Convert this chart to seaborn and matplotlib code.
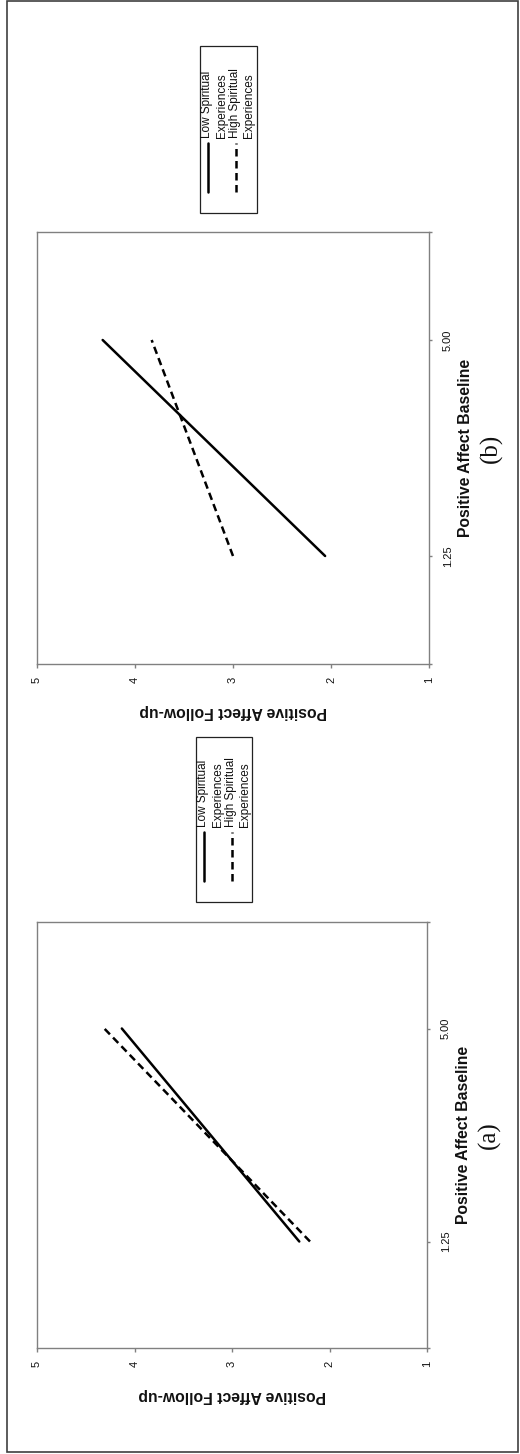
import pandas as pd
import seaborn as sns
import matplotlib.pyplot as plt
from matplotlib.patches import Rectangle

sns.set_theme(style='white')
plt.rcParams['font.family'] = ['Liberation Sans', 'DejaVu Sans']

# values
baseline = [1.25, 5.00]
baseline_labels = ['1.25', '5.00']
followup_ticks = [1, 2, 3, 4, 5]
groups = ['Low Spiritual Experiences', 'High Spiritual Experiences']
a_low = [2.31, 4.13]
a_high = [2.20, 4.31]
b_low = [2.06, 4.33]
b_high = [3.00, 3.83]
legend_rows = ['Low Spiritual', 'Experiences', 'High Spiritual', 'Experiences']

W, H = 520, 1454
GRAY = '#808080'


def make_df(low, high):
    return pd.DataFrame({
        'Baseline': baseline * 2,
        'FollowUp': low + high,
        'Group': [groups[0]] * 2 + [groups[1]] * 2,
    })


def px_box(left, top, right, bottom):
    return [left / W, 1 - bottom / H, (right - left) / W, (bottom - top) / H]


fig = plt.figure(figsize=(W / 100, H / 100), dpi=100)
# overlay in pixel coords for the frame and the hand-made (rotated) legends
over = fig.add_axes([0, 0, 1, 1])
over.set_xlim(0, W)
over.set_ylim(H, 0)
over.set_axis_off()
over.add_patch(Rectangle((7, 1), 511, 1451, fill=False, edgecolor='#404040', lw=1.2))


def draw_legend(left, top, right, bottom):
    over.add_patch(Rectangle((left, top), right - left, bottom - top,
                             fill=False, edgecolor='#222222', lw=0.9))
    over.plot([left + 8, left + 8], [bottom - 21, bottom - 70], color='black', lw=1.8)
    over.plot([left + 36, left + 36], [bottom - 21, bottom - 70], color='black', lw=1.8,
              dashes=(3.0, 1.8))
    for off, txt in zip([7, 22, 35, 49], legend_rows):
        over.text(left + off, bottom - 75, txt, rotation=90, rotation_mode='anchor',
                  ha='left', va='center', fontsize=8.5, color='#111111')


def draw_panel(ax, df, name):
    sns.lineplot(data=df, x='FollowUp', y='Baseline', style='Group',
                 dashes={groups[0]: '', groups[1]: (3.0, 1.8)},
                 color='black', linewidth=1.8, legend=False, ax=ax)
    ax.set_xlim(5, 1)
    span = baseline[1] - baseline[0]
    lo, hi = baseline[0] - span / 2, baseline[1] + span / 2
    ax.set_ylim(lo, hi)
    ax.set_xticks(followup_ticks)
    ax.set_xticklabels([str(t) for t in followup_ticks])
    ax.set_yticks([lo] + baseline + [hi])
    ax.set_yticklabels([''] + baseline_labels + [''])
    ax.yaxis.tick_right()
    ax.yaxis.set_label_position('right')
    for sp in ax.spines.values():
        sp.set_color(GRAY)
        sp.set_linewidth(1.0)
    ax.tick_params(axis='x', bottom=True, top=False, direction='out', length=3,
                   width=1, color=GRAY, labelsize=8, pad=6.5, labelrotation=90,
                   labelcolor='#111111')
    ax.tick_params(axis='y', right=True, left=False, direction='out', length=2.5,
                   width=1, color=GRAY, labelsize=8, pad=7.5, labelrotation=90,
                   labelcolor='#111111')
    for lbl in ax.get_yticklabels():
        lbl.set_va('center')
    ax.set_xlabel('Positive Affect Follow-up', rotation=180, fontweight='bold',
                  fontsize=11.3, labelpad=15, color='#111111')
    ax.set_ylabel('Positive Affect Baseline', rotation=90, fontweight='bold',
                  fontsize=11.3, labelpad=4, color='#111111')
    ax.text(1.16, 0.5, name, transform=ax.transAxes, rotation=90, ha='center',
            va='center', fontsize=18, family=['Liberation Serif', 'DejaVu Serif'],
            color='#111111')


ax_b = fig.add_axes(px_box(37, 232, 429, 664))
ax_a = fig.add_axes(px_box(37, 922, 427, 1348))
draw_panel(ax_a, make_df(a_low, a_high), '(a)')
draw_panel(ax_b, make_df(b_low, b_high), '(b)')
draw_legend(200, 46, 257, 213)
draw_legend(196, 737, 252, 902)

fig.savefig('out.png', dpi=100)
